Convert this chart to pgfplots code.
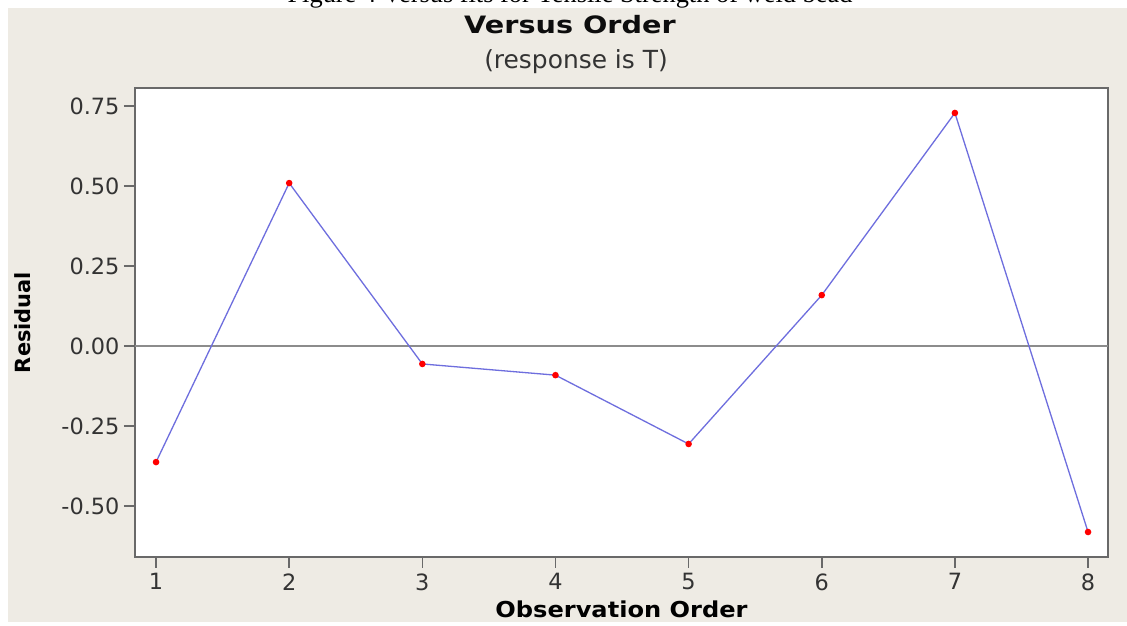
\documentclass[border=0pt]{standalone}
\usepackage{pgfplots}
\pgfplotsset{compat=1.18}
\usepackage{fontspec}
\setmainfont{DejaVu Sans}
\newfontfamily\capfont{Liberation Serif}
\newfontfamily\widefont[FakeStretch=1.1]{DejaVu Sans}
\newfontfamily\titlefont[FakeStretch=1.2]{DejaVu Sans}
\definecolor{bgbeige}{RGB}{238,235,228}
\definecolor{lineblue}{RGB}{110,110,222}
\definecolor{framegray}{RGB}{105,105,105}
\definecolor{zerogray}{RGB}{140,140,140}
\begin{document}
\begin{tikzpicture}[x=1bp,y=1bp]
\path[use as bounding box] (0,0) rectangle (1127,626);
\clip (0,0) rectangle (1127,626);
\fill[white] (0,0) rectangle (1127,626);
\fill[bgbeige] (8,4) rectangle (1127,618);
\node[anchor=base, inner sep=0, font=\capfont\fontsize{26.5}{30}\selectfont] at (570,623) {Figure 4 Versus fits for Tensile Strength of weld bead};
\node[anchor=base, inner sep=0, font=\titlefont\bfseries\fontsize{24}{28}\selectfont, text=black!95] at (570,592) {Versus Order};
\node[anchor=base, inner sep=0, font=\fontsize{25}{29}\selectfont, text=black!80] at (576,557) {(response is T)};
\begin{axis}[
  at={(135bp,69bp)}, anchor=south west,
  scale only axis, width=973bp, height=469bp,
  xmin=0.842, xmax=8.15, ymin=-0.659, ymax=0.806,
  xtick={1,...,8},
  ytick={-0.5,-0.25,0,0.25,0.5,0.75},
  yticklabel style={/pgf/number format/fixed, /pgf/number format/fixed zerofill, /pgf/number format/precision=2, xshift=-1bp},
  /pgf/number format/assume math mode=true,
  tick align=outside, major tick length=11bp,
  xtick pos=bottom, ytick pos=left,
  tick style={framegray, line width=1.6bp},
  axis line style={framegray, line width=2bp},
  axis background/.style={fill=white},
  ticklabel style={font=\fontsize{22.5}{26}\selectfont, text=black!80},
  xticklabel style={yshift=-2bp},
  xlabel={Observation Order},
  ylabel={Residual},
  label style={font=\bfseries\fontsize{21}{25}\selectfont},
  xlabel style={font=\widefont\bfseries\fontsize{22}{26}\selectfont, at={(axis description cs:0.5,-0.093)}, anchor=north, inner sep=0},
  ylabel style={at={(axis description cs:-0.1151,0.5)}, anchor=center, inner sep=0},
  extra y ticks={0}, extra y tick labels={},
  extra y tick style={grid=major, major grid style={zerogray, line width=1.4bp}, major tick length=0pt},
]
\addplot[lineblue, line width=1.3bp, mark=*, mark size=2.6bp, mark options={red, draw=red}]
coordinates {(1,-0.3625) (2,0.509) (3,-0.056) (4,-0.091) (5,-0.306) (6,0.159) (7,0.728) (8,-0.581)};
\end{axis}
\end{tikzpicture}
\end{document}
